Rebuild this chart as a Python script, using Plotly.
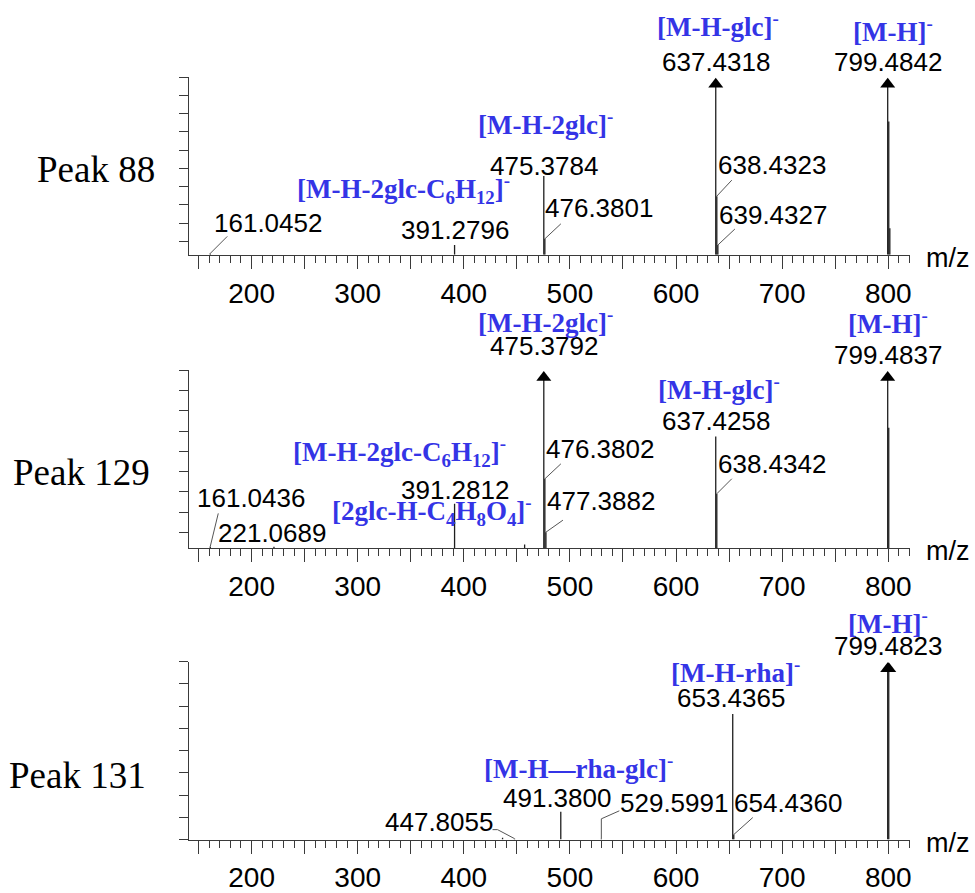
import plotly.graph_objects as go

# ---------------- data ----------------
panel_titles = ["Peak 88", "Peak 129", "Peak 131"]

# Peak 88 spectrum (m/z, relative intensity; >100 = off-scale)
p88_mz = [161.0452, 391.2796, 475.3784, 476.3801, 637.4318, 638.4323, 639.4327, 799.4842, 800.4875, 801.4901]
p88_int = [0.8, 5.5, 44.4, 9.0, 160.0, 33.0, 5.5, 160.0, 75.0, 15.0]

# Peak 129 spectrum
p129_mz = [161.0436, 221.0689, 391.2812, 457.3, 475.3792, 476.3802, 477.3882, 637.4258, 638.4342, 799.4837, 800.4870]
p129_int = [1.0, 0.8, 25.0, 2.0, 160.0, 39.0, 9.0, 62.8, 30.6, 160.0, 67.8]

# Peak 131 spectrum
p131_mz = [436.5, 447.8055, 491.3800, 529.5991, 653.4365, 654.4360, 799.4823, 800.4856]
p131_int = [1.0, 0.5, 15.6, 0.4, 70.6, 2.8, 160.0, 150.0]

# indices of peaks whose m/z is printed
p88_labeled = [0, 1, 2, 3, 4, 5, 6, 7]
p129_labeled = [0, 1, 2, 4, 5, 6, 7, 8, 9]
p131_labeled = [1, 2, 3, 4, 5, 6]

# ion assignments (peak index, text)
p88_ions = [(2, "[M-H-2glc]<sup>-</sup>"),
            (1, "[M-H-2glc-C<sub>6</sub>H<sub>12</sub>]<sup>-</sup>"),
            (4, "[M-H-glc]<sup>-</sup>"),
            (7, "[M-H]<sup>-</sup>")]
p129_ions = [(4, "[M-H-2glc]<sup>-</sup>"),
             (2, "[M-H-2glc-C<sub>6</sub>H<sub>12</sub>]<sup>-</sup>"),
             (2, "[2glc-H-C<sub>4</sub>H<sub>8</sub>O<sub>4</sub>]<sup>-</sup>"),
             (7, "[M-H-glc]<sup>-</sup>"),
             (9, "[M-H]<sup>-</sup>")]
p131_ions = [(2, "[M-H\u2014rha-glc]<sup>-</sup>"),
             (4, "[M-H-rha]<sup>-</sup>"),
             (6, "[M-H]<sup>-</sup>")]

x_tickvals = [150, 200, 250, 300, 350, 400, 450, 500, 550, 600, 650, 700, 750, 800]
x_ticktext = ["", "200", "", "300", "", "400", "", "500", "", "600", "", "700", "", "800"]

# ---------------- layout / positions (pixels) ----------------
W, H = 975, 893
ML, MR = 189, 65
MZ_RANGE = [141, 820.5]
Y_MAX = 100
ARROW_LEVEL = 0.96 * Y_MAX
panel_top_px = [78, 375, 670]
panel_bot_px = [258, 555, 850]
y_tick_step = [10.28, 11.4, 12.5]          # y-axis tick spacing per panel
title_right_px = [157, 152, 148]           # right edge of panel titles
title_center_px = [172, 478, 785]          # vertical centre of panel titles

# label placement: peak index -> (dx, dy) screen px offset of text centre from peak top
p88_label_pos = {0: (58, -30), 1: (0, -15), 2: (0, -10), 3: (54, -31), 4: (0, -15),
                 5: (55, -31), 6: (55, -30), 7: (0, -15)}
p129_label_pos = {0: (41, -48), 1: (-2, -14), 2: (0, -14), 4: (0, -24), 5: (55, -30),
                  6: (55, -31), 7: (0, -16), 8: (55, -30), 9: (0, -15)}
p131_label_pos = {1: (-76, -17), 2: (-4, -14), 3: (73, -36), 4: (-2, -16), 5: (54, -32), 6: (0, -16)}
# leader lines: peak index -> list of screen px points relative to peak top
p88_leaders = {0: [(0, 0), (17, -17)], 3: [(0, 0), (16, -15)], 5: [(0, 0), (15, -16)], 6: [(0, 0), (17, -16)]}
p129_leaders = {0: [(0, 0), (8, -33)], 5: [(0, 0), (16, -15)], 6: [(0, 0), (17, -12)], 8: [(0, 0), (15, -15)]}
p131_leaders = {1: [(0, 0), (-17, -9), (-22, -9)], 3: [(0, 0), (0, -20), (18, -28)], 5: [(0, 0), (19, -17)]}
# ion label offsets (same order as ion lists)
p88_ion_pos = [(2, -53), (-51, -56), (2, -52), (5, -47)]
p129_ion_pos = [(2, -49), (-55, -52), (-23, 7), (3, -49), (0, -48)]
p131_ion_pos = [(18, -45), (3, -43), (0, -40)]

panels = [
    (p88_mz, p88_int, p88_labeled, p88_label_pos, p88_leaders, p88_ions, p88_ion_pos),
    (p129_mz, p129_int, p129_labeled, p129_label_pos, p129_leaders, p129_ions, p129_ion_pos),
    (p131_mz, p131_int, p131_labeled, p131_label_pos, p131_leaders, p131_ions, p131_ion_pos),
]

AX_COLOR = "#3a3a3a"
PEAK_COLOR = "#1e1e1e"
BLUE = "#3434e6"
SANS = "Liberation Sans, Arial, sans-serif"
SERIF = "Liberation Serif, Times New Roman, serif"

fig = go.Figure()
layout = dict(width=W, height=H, margin=dict(l=ML, r=MR, t=0, b=0),
              plot_bgcolor="white", paper_bgcolor="white", showlegend=False)
annotations = []
shapes = []

for i, (mz, inten, labeled, lpos, leaders, ions, ion_pos) in enumerate(panels):
    sfx = "" if i == 0 else str(i + 1)
    xa, ya = "x" + sfx, "y" + sfx
    dom = [(H - panel_bot_px[i]) / H, (H - panel_top_px[i]) / H]
    layout["xaxis" + sfx] = dict(
        domain=[0, 1], anchor=ya, range=MZ_RANGE, showline=True, linecolor=AX_COLOR, linewidth=1.3,
        ticks="outside", ticklen=13, tickwidth=1.2, tickcolor=AX_COLOR,
        tickmode="array", tickvals=x_tickvals, ticktext=x_ticktext,
        tickfont=dict(family=SANS, size=28, color="black"),
        minor=dict(dtick=10, tick0=0, ticks="outside", ticklen=7, tickwidth=1, tickcolor=AX_COLOR),
        showgrid=False, zeroline=False, fixedrange=True)
    layout["yaxis" + sfx] = dict(
        domain=dom, anchor=xa, range=[0, Y_MAX], showline=True, linecolor=AX_COLOR, linewidth=1.3,
        ticks="outside", ticklen=9, tickwidth=1.1, tickcolor=AX_COLOR, tickmode="linear",
        tick0=Y_MAX, dtick=y_tick_step[i], showticklabels=False, showgrid=False, zeroline=False,
        fixedrange=True)

    # peak sticks
    xs, ys = [], []
    ax_x, ax_y = [], []
    for m, v in zip(mz, inten):
        top = v if v <= Y_MAX else ARROW_LEVEL
        xs += [m, m, None]
        ys += [0, top, None]
        if v > Y_MAX:
            ax_x.append(m)
            ax_y.append(ARROW_LEVEL)
    fig.add_trace(go.Scatter(x=xs, y=ys, mode="lines", xaxis=xa, yaxis=ya,
                             line=dict(color=PEAK_COLOR, width=1.3), hoverinfo="skip", cliponaxis=False))
    fig.add_trace(go.Scatter(x=ax_x, y=ax_y, mode="markers", xaxis=xa, yaxis=ya,
                             marker=dict(symbol="triangle-up", size=13, color="black"),
                             hoverinfo="skip", cliponaxis=False))

    def peak_top(k):
        return min(inten[k], Y_MAX)

    # m/z labels
    for k in labeled:
        dx, dy = lpos[k]
        annotations.append(dict(x=mz[k], y=peak_top(k), xref=xa, yref=ya, text=f"{mz[k]:.4f}",
                                showarrow=False, xanchor="center", yanchor="middle",
                                xshift=dx, yshift=-dy,
                                font=dict(family=SANS, size=26, color="black")))
    # leader lines
    for k, pts in leaders.items():
        path = "M " + " L ".join(f"{px},{-py}" for px, py in pts)
        shapes.append(dict(type="path", xref=xa, yref=ya, xsizemode="pixel", ysizemode="pixel",
                           xanchor=mz[k], yanchor=peak_top(k), path=path,
                           line=dict(color="#555555", width=1)))
    # ion assignments
    for (k, txt), (dx, dy) in zip(ions, ion_pos):
        annotations.append(dict(x=mz[k], y=peak_top(k), xref=xa, yref=ya, text="<b>" + txt + "</b>",
                                showarrow=False, xanchor="center", yanchor="middle",
                                xshift=dx, yshift=-dy,
                                font=dict(family=SERIF, size=27, color=BLUE)))
    # m/z axis label
    annotations.append(dict(x=1, y=0, xref=xa + " domain", yref=ya + " domain", text="m/z",
                            showarrow=False, xanchor="left", yanchor="middle", xshift=14, yshift=-3,
                            font=dict(family=SANS, size=27, color="black")))
    # panel title
    panel_h = panel_bot_px[i] - panel_top_px[i]
    title_frac = (panel_bot_px[i] - title_center_px[i]) / panel_h
    annotations.append(dict(x=0, y=title_frac, xref=xa + " domain", yref=ya + " domain",
                            text=panel_titles[i], showarrow=False, xanchor="right", yanchor="middle",
                            xshift=title_right_px[i] - ML,
                            font=dict(family=SERIF, size=37, color="black")))

layout["annotations"] = annotations
layout["shapes"] = shapes
fig.update_layout(**layout)
fig.write_html("out.html", config={"displayModeBar": False},
               post_script="document.body.style.margin='0px';document.body.style.overflow='hidden';")
